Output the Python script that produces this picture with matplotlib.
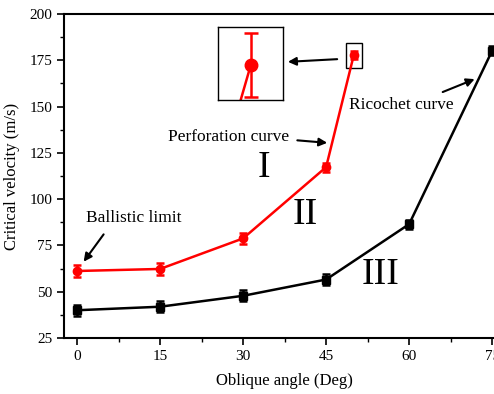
import matplotlib.pyplot as plt
from matplotlib.patches import Rectangle

plt.rcParams['font.family'] = ['Liberation Serif', 'DejaVu Serif']

angle_perf = [0, 15, 30, 45, 50]
vel_perf = [61.2, 62.3, 78.8, 117.3, 177.8]
err_perf = [3.0, 3.0, 3.0, 2.5, 2.0]

angle_rico = [0, 15, 30, 45, 60, 75]
vel_rico = [40.0, 41.9, 47.8, 56.6, 86.5, 180.2]
err_rico = [3.0, 3.0, 3.0, 3.0, 2.5, 2.5]

xticks = [0, 15, 30, 45, 60, 75]
yticks = [25, 50, 75, 100, 125, 150, 175, 200]

fig = plt.figure(figsize=(4.94, 3.94), dpi=100)
ax = fig.add_axes([0.1296, 0.1421, 0.893, 0.8223])

ax.errorbar(angle_perf, vel_perf, yerr=err_perf, color='red', marker='o', ms=6,
            lw=1.8, capsize=3, elinewidth=1.8, capthick=1.8)
ax.errorbar(angle_rico, vel_rico, yerr=err_rico, color='black', marker='s', ms=6,
            lw=1.8, capsize=3, elinewidth=1.8, capthick=1.8)

ax.set_xlim(-2.35, 77.35)
ax.set_ylim(25, 200)
ax.set_xticks(xticks)
ax.set_yticks(yticks)
ax.set_xticks([7.5, 22.5, 37.5, 52.5, 67.5], minor=True)
ax.set_yticks([37.5, 62.5, 87.5, 112.5, 137.5, 162.5, 187.5], minor=True)
ax.tick_params(which='major', direction='out', length=5, width=1.2, labelsize=11)
ax.tick_params(which='minor', direction='out', length=3, width=1.0)
for s in ax.spines.values():
    s.set_linewidth(1.5)
ax.set_xlabel('Oblique angle (Deg)', fontsize=12, labelpad=7)
ax.set_ylabel('Critical velocity (m/s)', fontsize=12, labelpad=7)

arrow = dict(arrowstyle='-|>', color='black', lw=1.5, mutation_scale=12)
ax.text(10.3, 89.8, 'Ballistic limit', fontsize=12.5, ha='center', va='center')
ax.annotate('', xy=(0.9, 65), xytext=(5.1, 82.2), arrowprops=arrow)
ax.text(27.3, 133.5, 'Perforation curve', fontsize=12.5, ha='center', va='center')
ax.annotate('', xy=(45.7, 130.3), xytext=(39.3, 131.9), arrowprops=arrow)
ax.text(58.6, 150.8, 'Ricochet curve', fontsize=12.5, ha='center', va='center')
ax.annotate('', xy=(72.3, 165.4), xytext=(65.6, 157.3), arrowprops=arrow)
ax.annotate('', xy=(37.6, 174.1), xytext=(47.5, 175.7), arrowprops=arrow)

ax.text(33.8, 116.8, 'I', fontsize=27, ha='center', va='center')
ax.text(41.2, 91.4, 'II', fontsize=27, ha='center', va='center')
ax.text(54.8, 59.0, 'III', fontsize=27, ha='center', va='center')

ax.add_patch(Rectangle((48.6, 170.8), 2.9, 13.5, fill=False, ec='black', lw=1.0))

ins = fig.add_axes([0.4413, 0.7462, 0.1316, 0.1853])
ins.errorbar(angle_perf, vel_perf, yerr=err_perf, color='red', marker='o', ms=9,
             lw=1.8, capsize=5, elinewidth=1.8, capthick=1.8)
ins.set_xlim(49.41, 50.58)
ins.set_ylim(175.6, 180.2)
ins.set_xticks([])
ins.set_yticks([])
for s in ins.spines.values():
    s.set_linewidth(1.0)

fig.savefig('out.png', dpi=100)
